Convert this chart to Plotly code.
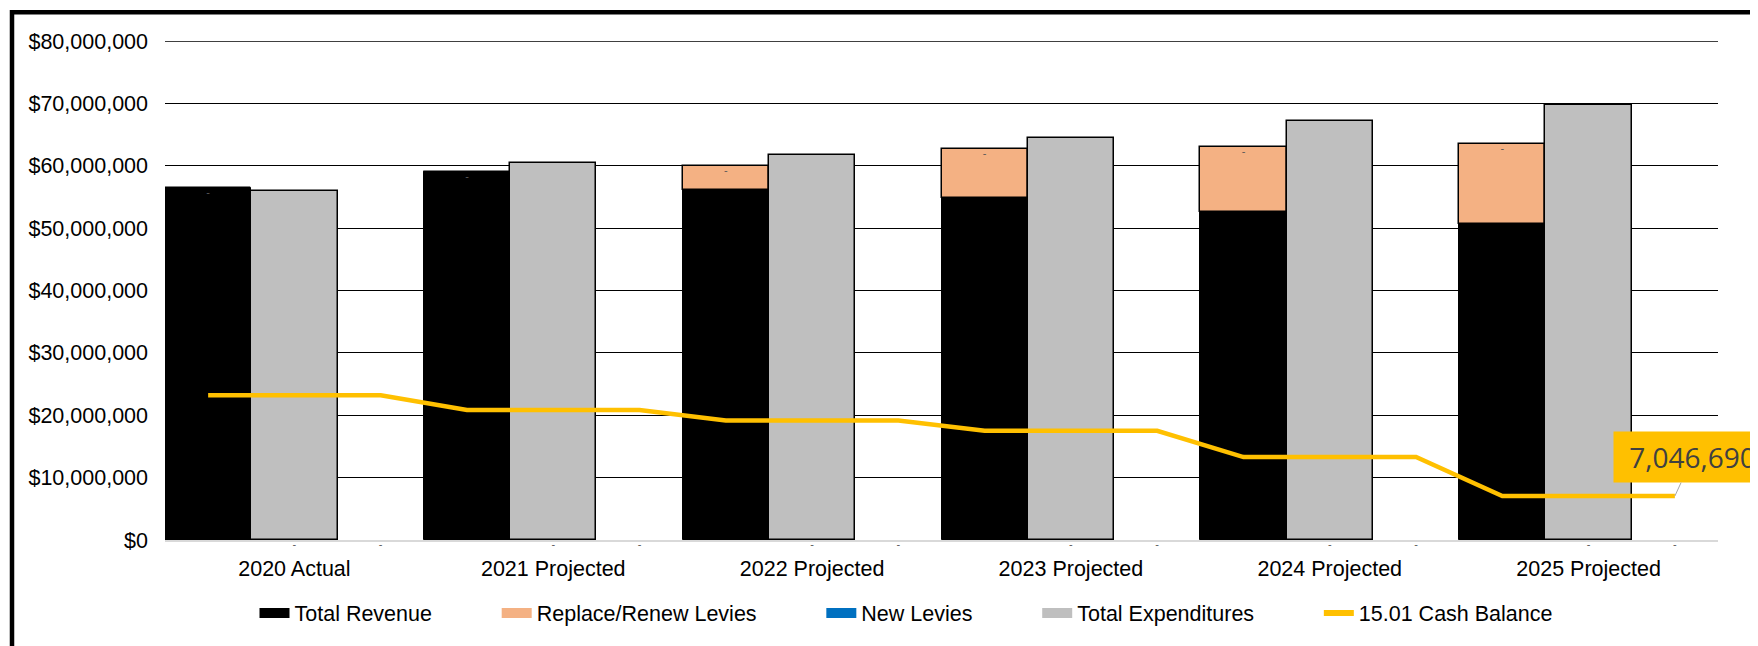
import plotly.graph_objects as go

categories = ["2020 Actual", "2021 Projected", "2022 Projected", "2023 Projected", "2024 Projected", "2025 Projected"]
total_revenue = [56_500_000, 59_050_000, 56_100_000, 54_850_000, 52_600_000, 50_650_000]
replace_renew = [0, 0, 3_900_000, 7_850_000, 10_400_000, 12_900_000]
new_levies = [0, 0, 0, 0, 0, 0]
total_expenditures = [55_950_000, 60_500_000, 61_700_000, 64_400_000, 67_100_000, 69_800_000]
cash_balance = [23_200_000, 20_850_000, 19_150_000, 17_500_000, 13_300_000, 7_046_690]
Y_MAX = 80_000_000
Y_STEP = 10_000_000

C_REV = "#000000"
C_LEV = "#F4B183"
C_NEW = "#0070C0"
C_EXP = "#BFBFBF"
C_CASH = "#FFC000"
FONT = "Liberation Sans, Arial, sans-serif"
FS = 21.5


def acct(v):
    # accounting-style label: zero shows as a dash
    return "-" if v == 0 else f"{v:,.0f}"


n = len(categories)
levy_base = total_revenue
stack_top = [r + l for r, l in zip(total_revenue, replace_renew)]

fig = go.Figure()
fig.add_trace(go.Bar(x=categories, y=total_revenue, name="Total Revenue", offsetgroup="a",
                     marker=dict(color=C_REV, line=dict(color="#000000", width=1)),
                     showlegend=False, legendgroup="rev"))
fig.add_trace(go.Bar(x=categories, y=replace_renew, base=levy_base, name="Replace/Renew Levies",
                     offsetgroup="a",
                     marker=dict(color=C_LEV, line=dict(color="#000000", width=1.5)),
                     showlegend=False, legendgroup="lev"))
fig.add_trace(go.Bar(x=categories, y=total_expenditures, name="Total Expenditures", offsetgroup="b",
                     marker=dict(color=C_EXP, line=dict(color="#000000", width=1.5)),
                     showlegend=False, legendgroup="exp"))
fig.add_trace(go.Bar(x=categories, y=new_levies, name="New Levies", offsetgroup="c",
                     marker=dict(color=C_NEW, line=dict(width=0)),
                     showlegend=False, legendgroup="new"))

slot = 1.0 / 3.0

# tiny zero-value data labels ("-") of the New Levies series
lab_x, lab_y, lab_t = [], [], []
for i, v in enumerate(new_levies):
    lab_x += [i - slot, i, i + slot]
    lab_y += [stack_top[i] + v, v, v]
    lab_t += [acct(v)] * 3
fig.add_trace(go.Scatter(x=lab_x, y=lab_y, xaxis="x2", mode="text", text=lab_t,
                         textposition="bottom center",
                         textfont=dict(family=FONT, size=11, color="#595959"),
                         showlegend=False, hoverinfo="skip", cliponaxis=False))

# cash balance line: flat across each category's slots (revenue slot centre to empty slot centre)
line_x, line_y = [], []
for i, v in enumerate(cash_balance):
    line_x += [i - slot, i + slot]
    line_y += [v, v]
fig.add_trace(go.Scatter(x=line_x, y=line_y, xaxis="x2", mode="lines", name="15.01 Cash Balance",
                         line=dict(color=C_CASH, width=4.5), showlegend=False, legendgroup="cash",
                         hoverinfo="skip"))

# legend proxies (wide swatches like the original); non-breaking spaces widen the gaps
PAD = "\u00a0" * 10
legend_items = [("Total Revenue", C_REV, "rev", 12), ("Replace/Renew Levies", C_LEV, "lev", 12),
                ("New Levies", C_NEW, "new", 12), ("Total Expenditures", C_EXP, "exp", 12),
                ("15.01 Cash Balance", C_CASH, "cash", 6)]
for rank, (nm, col, grp, w) in enumerate(legend_items):
    label = nm + (PAD if rank < len(legend_items) - 1 else "")
    fig.add_trace(go.Scatter(x=[None], y=[None], mode="lines", name=label, legendgroup=grp,
                             line=dict(color=col, width=w), legendrank=rank + 1, showlegend=True))

fig.add_annotation(x=line_x[-1], y=cash_balance[-1], xref="x2", yref="y",
                   text=acct(cash_balance[-1]), showarrow=True, arrowhead=0, arrowwidth=1,
                   arrowcolor="#A6A6A6", ax=18, ay=-39, bgcolor=C_CASH, borderpad=6,
                   width=145, align="center",
                   font=dict(family="Open Sans, sans-serif", size=28, color="#404040"),
                   xanchor="center", yanchor="middle")

# page is offset by the browser's default 8px body margin
W, H = 1750, 638
ml, mr, mt, mb = 157, 40, 33, 106
pw, ph = W - ml - mr, H - mt - mb
# outer chart-area border (runs off the right and bottom edges as in the original)
fig.add_shape(type="rect", xref="paper", yref="paper",
              x0=(4 - ml) / pw, x1=(W + 30 - ml) / pw,
              y0=(H - mb - (H + 30)) / ph, y1=(H - mb - 4.3) / ph,
              line=dict(color="#000000", width=4.5), fillcolor="rgba(0,0,0,0)", layer="above")
# top gridline at the axis maximum
fig.add_shape(type="line", xref="paper", yref="y", x0=0, x1=1, y0=Y_MAX, y1=Y_MAX,
              line=dict(color="#000000", width=1.3), layer="below")

fig.update_layout(
    width=W, height=H,
    margin=dict(l=ml, r=mr, t=mt, b=mb, autoexpand=False),
    paper_bgcolor="white", plot_bgcolor="white",
    barmode="group", bargap=0, bargroupgap=0,
    font=dict(family=FONT, size=FS, color="#000000"),
    xaxis=dict(type="category", showgrid=False, showline=True, linecolor="#D9D9D9", linewidth=1.5,
               ticks="", tickfont=dict(size=FS), ticklabelstandoff=8, range=[-0.5, n - 0.5]),
    xaxis2=dict(overlaying="x", range=[-0.5, n - 0.5], visible=False, type="linear"),
    yaxis=dict(range=[0, Y_MAX], dtick=Y_STEP, tickformat="$,.0f", showgrid=True,
               gridcolor="#000000", gridwidth=1.3, zeroline=False, showline=False,
               tickfont=dict(size=FS), ticklabelstandoff=16),
    legend=dict(orientation="h", x=(898 - ml) / pw, xanchor="center", y=(H - mb - 605) / ph,
                yanchor="middle", font=dict(size=FS), bgcolor="rgba(0,0,0,0)", traceorder="normal"),
    showlegend=True,
)

fig.write_html("out.html")
